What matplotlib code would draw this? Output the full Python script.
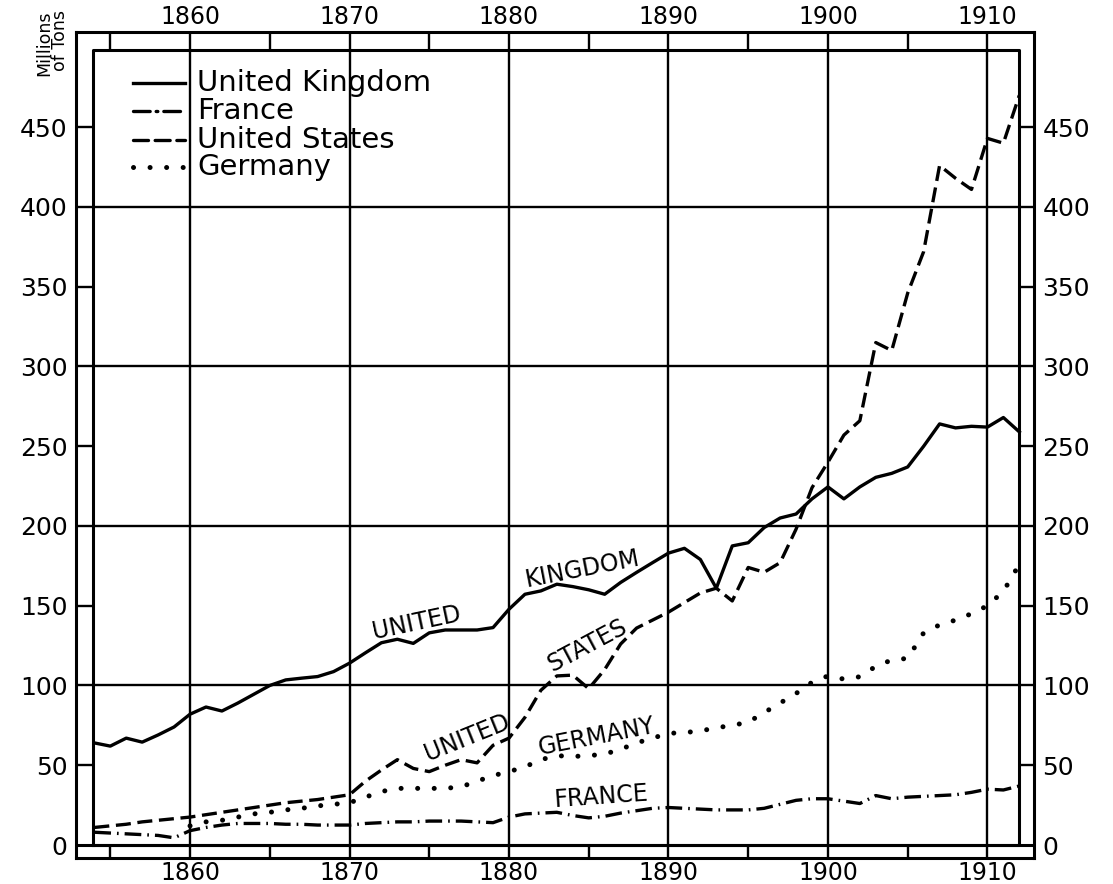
import matplotlib
matplotlib.use("Agg")
import matplotlib.pyplot as plt

# coal output, millions of tons
years = list(range(1854, 1913))
germany_years = list(range(1860, 1913))

uk = [64, 62, 67, 64.5, 69, 74, 82, 86.5, 84, 89, 94.5, 100, 103.5, 104.6, 105.6, 108.7, 114,
      120.5, 126.8, 129, 126.4, 133, 134.8, 134.8, 134.8, 136.3, 147.8, 157.2, 159.3, 163.5, 162,
      160, 157.2, 164.6, 170.9, 177, 183, 186, 179, 161, 187.5, 189.5, 199, 205, 207.5, 217,
      224.5, 217, 224.5, 230.5, 233, 237, 250, 264, 261.5, 262.5, 262, 268, 259]

france = [8, 7.5, 7, 6.5, 6, 4.5, 9, 11, 12.5, 13.5, 13.5, 13.5, 13, 13, 12.5, 12.5, 12.5,
          13.5, 14, 14.5, 14.5, 15, 15, 15, 14.5, 14, 17.5, 19.5, 20, 20.5, 18.5, 17, 18, 20,
          21.5, 23, 23.5, 23, 22.5, 22, 22, 22, 23, 25.5, 28, 29, 29, 27.5, 26, 31, 29, 30,
          30.5, 31, 31.5, 33, 35, 34.5, 37]

us = [11, 12, 13, 14.5, 15.5, 16.5, 17.5, 19, 20.5, 22, 23.5, 25, 26.5, 27.5, 28.5, 30, 31.5,
      40, 47, 53.5, 48, 46, 50, 53.5, 51.5, 62.5, 67, 80, 97, 106, 106.5, 98, 110, 126, 136,
      141, 146, 152, 158, 161, 153, 174, 171, 177, 198, 224, 240, 257, 266, 315, 310, 346,
      372, 426, 418, 411, 443, 440, 470]

germany = [12, 14.5, 15.5, 17.5, 19.5, 20.5, 22, 23, 24.5, 25.5, 26.5,
           30, 33.5, 35.5, 35.5, 35.5, 35.5, 36.5, 40, 43.5, 46, 49, 53.5, 56, 55.5, 56, 57,
           60, 64, 67, 70, 70.5, 71.5, 73.5, 75, 77, 83, 89, 95, 102, 106, 104, 105.5, 112,
           116, 117, 133, 138, 141, 145, 150, 159, 176]

decades = list(range(1860, 1911, 10))
half_decades = list(range(1855, 1910, 10))
y_ticks = list(range(0, 451, 50))

# outer frame limits and inner plotting box (data units)
X_OUT = (1852.85, 1912.92)
Y_OUT = (-8.15, 509.7)
X_IN = (1853.9, 1912.0)
Y_IN = (0, 498.4)

K = "black"
solid_lw = 2.4
us_style = (0, (4.5, 2))
fr_style = (0, (5, 1.8, 0.5, 1.8))
ge_style = (0, (0.01, 3.3))

fig = plt.figure(figsize=(11.13, 8.84), dpi=100)
ax = fig.add_axes([76 / 1113, 26 / 884, 958 / 1113, 826 / 884])
ax.set_xlim(*X_OUT)
ax.set_ylim(*Y_OUT)
for s in ax.spines.values():
    s.set_linewidth(2.2)

# grid (runs through the border band)
ax.vlines(decades, Y_OUT[0], Y_OUT[1], color=K, lw=1.7)
ax.hlines(range(100, 401, 100), X_OUT[0], X_OUT[1], color=K, lw=1.7)
# inner frame
ax.plot([X_IN[0], X_IN[1], X_IN[1], X_IN[0], X_IN[0]],
        [Y_IN[0], Y_IN[0], Y_IN[1], Y_IN[1], Y_IN[0]], color=K, lw=2.2)
ax.hlines(0, X_OUT[0], X_OUT[1], color=K, lw=2.2)
# small ticks in the border band
ax.vlines(half_decades, Y_OUT[0], Y_IN[0], color=K, lw=1.7)
ax.vlines(half_decades, Y_IN[1], Y_OUT[1], color=K, lw=1.7)
ax.hlines(range(50, 451, 100), X_OUT[0], X_IN[0], color=K, lw=1.7)
ax.hlines(range(50, 451, 100), X_IN[1], X_OUT[1], color=K, lw=1.7)

# data
ax.plot(years, uk, color=K, lw=solid_lw, solid_joinstyle="round")
ax.plot(years, france, color=K, lw=solid_lw, linestyle=fr_style)
ax.plot(years, us, color=K, lw=solid_lw, linestyle=us_style)
ax.plot(germany_years, germany, color=K, lw=3.6, linestyle=ge_style,
        dash_capstyle="round")

# ticks and labels
ax.set_xticks(decades)
ax.set_xticklabels([str(d) for d in decades])
ax.set_yticks(y_ticks)
ax.set_yticklabels([str(v) for v in y_ticks])
ax.tick_params(axis="x", length=0, labelsize=17, top=True, labeltop=True, pad=2)
ax.tick_params(axis="y", length=0, labelsize=18, right=True, labelright=True, pad=6)

fig.text(52 / 1113, 1 - 10 / 884, "Millions\nof Tons", rotation=90, ha="center", va="top",
         fontsize=12.5, multialignment="right", linespacing=0.85)

# legend drawn by hand
leg = [("United Kingdom", "-", 0.9383), ("France", fr_style, 0.9044),
       ("United States", us_style, 0.8692), ("Germany", ge_style, 0.8366)]
for name, ls, yy in leg:
    lw = 3.6 if ls is ge_style else solid_lw
    ax.plot([0.0595, 0.1138], [yy, yy], transform=ax.transAxes, color=K, lw=lw,
            linestyle=ls, dash_capstyle="round")
    ax.text(0.1263, yy, name, transform=ax.transAxes, fontsize=21, ha="left", va="center")

# labels along the curves
tags = [("UNITED", 1874.2, 139, 12), ("KINGDOM", 1884.6, 173, 11),
        ("UNITED", 1877.4, 67, 22), ("STATES", 1884.9, 125, 28),
        ("GERMANY", 1885.5, 68, 11), ("FRANCE", 1885.8, 30, 4)]
for txt, x, y, rot in tags:
    ax.text(x, y, txt, fontsize=17, rotation=rot, ha="center", va="center",
            rotation_mode="anchor")

fig.savefig("out.png", dpi=100, facecolor="white")
